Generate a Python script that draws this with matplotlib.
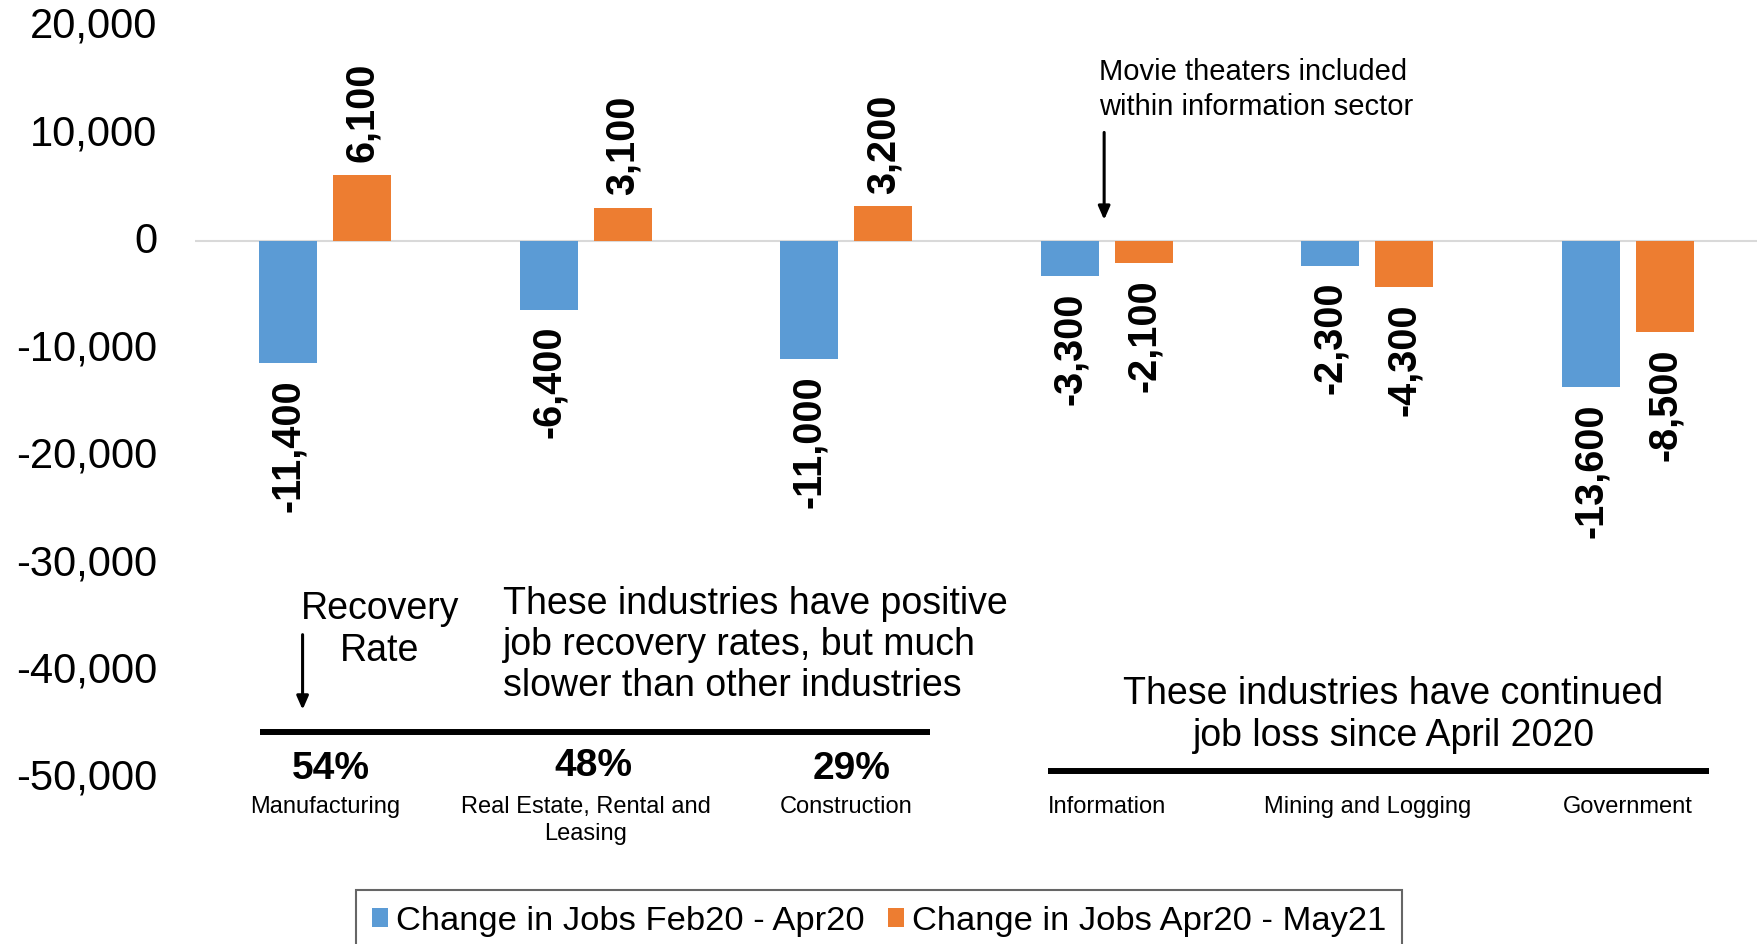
import matplotlib
matplotlib.use("Agg")
import matplotlib.pyplot as plt
from matplotlib.patches import Patch
from matplotlib.ticker import FuncFormatter, MultipleLocator

plt.rcParams['font.family'] = ['Liberation Sans', 'DejaVu Sans']

# ---- data ----
industries = ["Manufacturing", "Real Estate, Rental and\nLeasing", "Construction",
              "Information", "Mining and Logging", "Government"]
change_feb20_apr20 = [-11400, -6400, -11000, -3300, -2300, -13600]
change_apr20_may21 = [6100, 3100, 3200, -2100, -4300, -8500]
recovery_rates = ["54%", "48%", "29%"]
series_names = ["Change in Jobs Feb20 - Apr20", "Change in Jobs Apr20 - May21"]

BLUE = "#5B9BD5"
ORANGE = "#ED7D31"

W, H = 1758, 945
fig = plt.figure(figsize=(W / 100, H / 100), dpi=100)
ax = fig.add_axes([195 / W, 1 - 779 / H, 1563 / W, 752 / H])

x = list(range(len(industries)))
bw = 0.224
off = 0.142
b1 = ax.bar([i - off for i in x], change_feb20_apr20, width=bw, color=BLUE, zorder=2)
b2 = ax.bar([i + off for i in x], change_apr20_may21, width=bw, color=ORANGE, zorder=2)

for bars, vals in ((b1, change_feb20_apr20), (b2, change_apr20_may21)):
    for rect, v in zip(bars, vals):
        cx = rect.get_x() + rect.get_width() / 2
        if v >= 0:
            ax.annotate(f"{v:,}", (cx, v), xytext=(0, 10), textcoords="offset points",
                        rotation=90, ha="center", va="bottom", fontsize=28.5,
                        fontweight="bold", annotation_clip=False)
        else:
            ax.annotate(f"{v:,}", (cx, v), xytext=(0, -11), textcoords="offset points",
                        rotation=90, ha="center", va="top", fontsize=28.5,
                        fontweight="bold", annotation_clip=False)

ax.set_xlim(-0.5, 5.5)
ax.set_ylim(-50000, 20000)
ax.yaxis.set_major_locator(MultipleLocator(10000))
ax.yaxis.set_major_formatter(FuncFormatter(lambda v, p: f"{int(v):,}"))
ax.tick_params(axis="y", length=0, labelsize=30, pad=27)
for lab in ax.get_yticklabels():
    lab.set_va("center")
ax.set_xticks(x)
ax.set_xticklabels(industries, fontsize=17, linespacing=1.3)
ax.tick_params(axis="x", length=0, pad=12)
for s in ax.spines.values():
    s.set_visible(False)
ax.axhline(0, color="#D9D9D9", lw=1.5, zorder=1)

# ---- annotations ----
ax.text(2.969, 14200, "Movie theaters included\nwithin information sector",
        ha="left", va="center", fontsize=21, linespacing=1.3)
ax.annotate("", xy=(2.99, 1700), xytext=(2.99, 10350),
            arrowprops=dict(arrowstyle="-|>,head_width=0.35,head_length=0.8",
                            color="black", lw=2.2), annotation_clip=False)

ax.text(0.21, -36150, "Recovery\nRate", ha="center", va="center", fontsize=27,
        linespacing=1.22)
ax.annotate("", xy=(-0.087, -43900), xytext=(-0.087, -36400),
            arrowprops=dict(arrowstyle="-|>,head_width=0.35,head_length=0.8",
                            color="black", lw=2.2), annotation_clip=False)

ax.text(0.684, -37550,
        "These industries have positive\njob recovery rates, but much\nslower than other industries",
        ha="left", va="center", fontsize=27, linespacing=1.18)
ax.text(4.101, -44050, "These industries have continued\njob loss since April 2020",
        ha="center", va="center", fontsize=27, linespacing=1.22)

ax.plot([-0.25, 2.32], [-45700, -45700], color="black", lw=4.3, clip_on=False,
        solid_capstyle="butt")
ax.plot([2.774, 5.312], [-49340, -49340], color="black", lw=4.3, clip_on=False,
        solid_capstyle="butt")

rate_x = [0.02, 1.03, 2.02]
rate_y = [-49050, -48750, -49050]
for rx, ry, r in zip(rate_x, rate_y, recovery_rates):
    ax.text(rx, ry, r, ha="center", va="center", fontsize=28, fontweight="bold",
            clip_on=False)

handles = [Patch(facecolor=BLUE, edgecolor="none"), Patch(facecolor=ORANGE, edgecolor="none")]
leg = fig.legend(handles, series_names, loc="upper center", ncol=2,
                 bbox_to_anchor=(879 / W, 1 - 891 / H), bbox_transform=fig.transFigure,
                 fontsize=24.8, frameon=True, fancybox=False, handlelength=0.46,
                 handleheight=0.46, handletextpad=0.23, columnspacing=0.69,
                 borderpad=0.45, borderaxespad=0)
leg.get_frame().set_edgecolor("#404040")
leg.get_frame().set_linewidth(1.5)

fig.savefig("out.png", dpi=100)
